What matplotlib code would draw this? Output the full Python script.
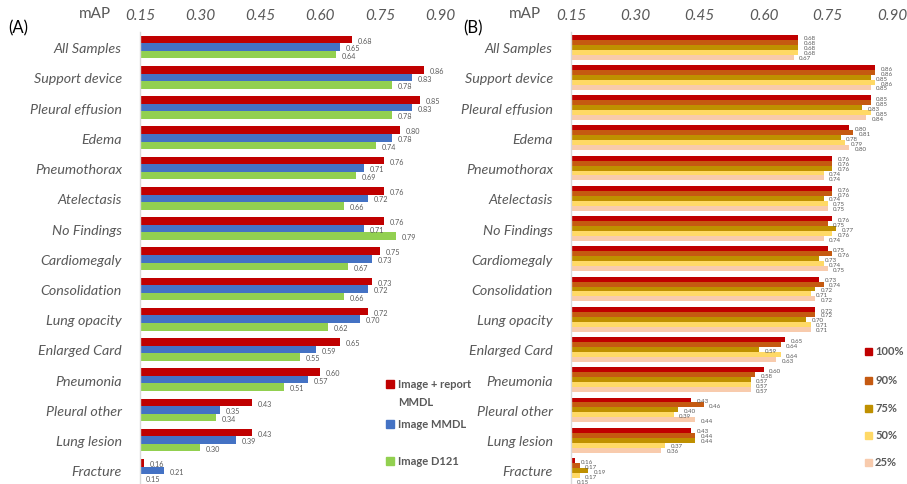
import matplotlib
matplotlib.use("Agg")
import matplotlib.pyplot as plt
from matplotlib.patches import Rectangle
import numpy as np

categories = ["All Samples", "Support device", "Pleural effusion", "Edema",
              "Pneumothorax", "Atelectasis", "No Findings", "Cardiomegaly",
              "Consolidation", "Lung opacity", "Enlarged Card", "Pneumonia",
              "Pleural other", "Lung lesion", "Fracture"]

# Panel A
img_report_mmdl = [0.68, 0.86, 0.85, 0.80, 0.76, 0.76, 0.76, 0.75, 0.73, 0.72, 0.65, 0.60, 0.43, 0.43, 0.16]
img_mmdl        = [0.65, 0.83, 0.83, 0.78, 0.71, 0.72, 0.71, 0.73, 0.72, 0.70, 0.59, 0.57, 0.35, 0.39, 0.21]
img_d121        = [0.64, 0.78, 0.78, 0.74, 0.69, 0.66, 0.79, 0.67, 0.66, 0.62, 0.55, 0.51, 0.34, 0.30, 0.15]
series_a = [img_report_mmdl, img_mmdl, img_d121]
labels_a = [["Image + report", "MMDL"], ["Image MMDL"], ["Image D121"]]
colors_a = ["#C00000", "#4472C4", "#92D050"]

# Panel B (fraction of training data)
pct_100 = [0.68, 0.86, 0.85, 0.80, 0.76, 0.76, 0.76, 0.75, 0.73, 0.72, 0.65, 0.60, 0.43, 0.43, 0.16]
pct_90  = [0.68, 0.86, 0.85, 0.81, 0.76, 0.76, 0.75, 0.76, 0.74, 0.72, 0.64, 0.58, 0.46, 0.44, 0.17]
pct_75  = [0.68, 0.85, 0.83, 0.78, 0.76, 0.74, 0.77, 0.73, 0.72, 0.70, 0.59, 0.57, 0.40, 0.44, 0.19]
pct_50  = [0.68, 0.86, 0.85, 0.79, 0.74, 0.75, 0.76, 0.74, 0.71, 0.71, 0.64, 0.57, 0.39, 0.37, 0.17]
pct_25  = [0.67, 0.85, 0.84, 0.80, 0.74, 0.75, 0.74, 0.75, 0.72, 0.71, 0.63, 0.57, 0.44, 0.36, 0.15]
series_b = [pct_100, pct_90, pct_75, pct_50, pct_25]
labels_b = ["100%", "90%", "75%", "50%", "25%"]
colors_b = ["#C00000", "#C55A11", "#BF9000", "#FFD966", "#F8CBAD"]

xticks = [0.15, 0.30, 0.45, 0.60, 0.75, 0.90]
XMIN, XMAX = 0.15, 0.90

GRAY = "#595959"
FONT = "Lato"

W, H = 907, 485
fig = plt.figure(figsize=(W / 100, H / 100), dpi=100)


def px_axes(left, top, right, bottom):
    return fig.add_axes([left / W, 1 - bottom / H, (right - left) / W, (bottom - top) / H])


def fig_text(x, y, s, **kw):
    # x, y in pixels from top-left
    return fig.text(x / W, 1 - y / H, s, family=FONT, **kw)


def draw_panel(ax, series, colors, group_h, val_fs):
    n = len(series)
    y = np.arange(len(categories))
    bh = group_h / n
    for k, (vals, c) in enumerate(zip(series, colors)):
        off = (k - (n - 1) / 2) * bh
        vals = np.array(vals)
        ax.barh(y + off, vals - XMIN, left=XMIN, height=bh, color=c, linewidth=0)
        for yy, v in zip(y + off, vals):
            ax.annotate(f"{v:.2f}", (v, yy), xytext=(4, -0.5), textcoords="offset points",
                        fontsize=val_fs, color=GRAY, va="center", ha="left", family=FONT)
    ax.set_xlim(XMIN, XMAX)
    ax.set_ylim(len(categories) - 0.55, -0.5)
    ax.set_yticks(y)
    ax.set_yticklabels(categories, fontsize=10.3, style="italic", color=GRAY, family=FONT)
    ax.tick_params(axis="y", length=0, pad=13)
    ax.xaxis.tick_top()
    ax.set_xticks(xticks)
    ax.set_xticklabels([f"{t:.2f}" for t in xticks], fontsize=11, style="italic",
                       color=GRAY, family=FONT)
    ax.tick_params(axis="x", length=0, pad=7)
    for s in ["top", "right", "bottom"]:
        ax.spines[s].set_visible(False)
    ax.spines["left"].set_color("#D9D9D9")
    ax.spines["left"].set_linewidth(1.0)


# Panel A: 0.15 at x=140, 0.90 at x=440
ax_a = px_axes(140, 33, 440, 485)
draw_panel(ax_a, series_a, colors_a, 0.75, 5.2)

# Panel B: 0.15 at x=571, 0.90 at x=892
ax_b = px_axes(571, 33, 892, 485)
draw_panel(ax_b, series_b, colors_b, 0.82, 4.4)

fig_text(95, 14, "mAP", fontsize=11, color=GRAY, ha="center", va="center")
fig_text(525, 14, "mAP", fontsize=11, color=GRAY, ha="center", va="center")
fig_text(8, 28, "(A)", fontsize=12, color="black", ha="left", va="center")
fig_text(463, 28, "(B)", fontsize=12, color="black", ha="left", va="center")

# Legend A
leg_a_y = [385, 425, 462]
for lines, c, yy in zip(labels_a, colors_a, leg_a_y):
    fig.add_artist(Rectangle((386 / W, 1 - (yy + 4) / H), 8 / W, 8 / H, color=c,
                             transform=fig.transFigure))
    for j, line in enumerate(lines):
        fig_text(398, yy + j * 17, line, fontsize=8, fontweight="bold", color=GRAY,
                 ha="left", va="center")

# Legend B
leg_b_y = [352, 381, 409, 436, 463]
for lab, c, yy in zip(labels_b, colors_b, leg_b_y):
    fig.add_artist(Rectangle((865 / W, 1 - (yy + 3.5) / H), 7 / W, 7 / H, color=c,
                             transform=fig.transFigure))
    fig_text(875, yy, lab, fontsize=8, fontweight="bold", color=GRAY, ha="left", va="center")

fig.savefig("out.png", dpi=100)
